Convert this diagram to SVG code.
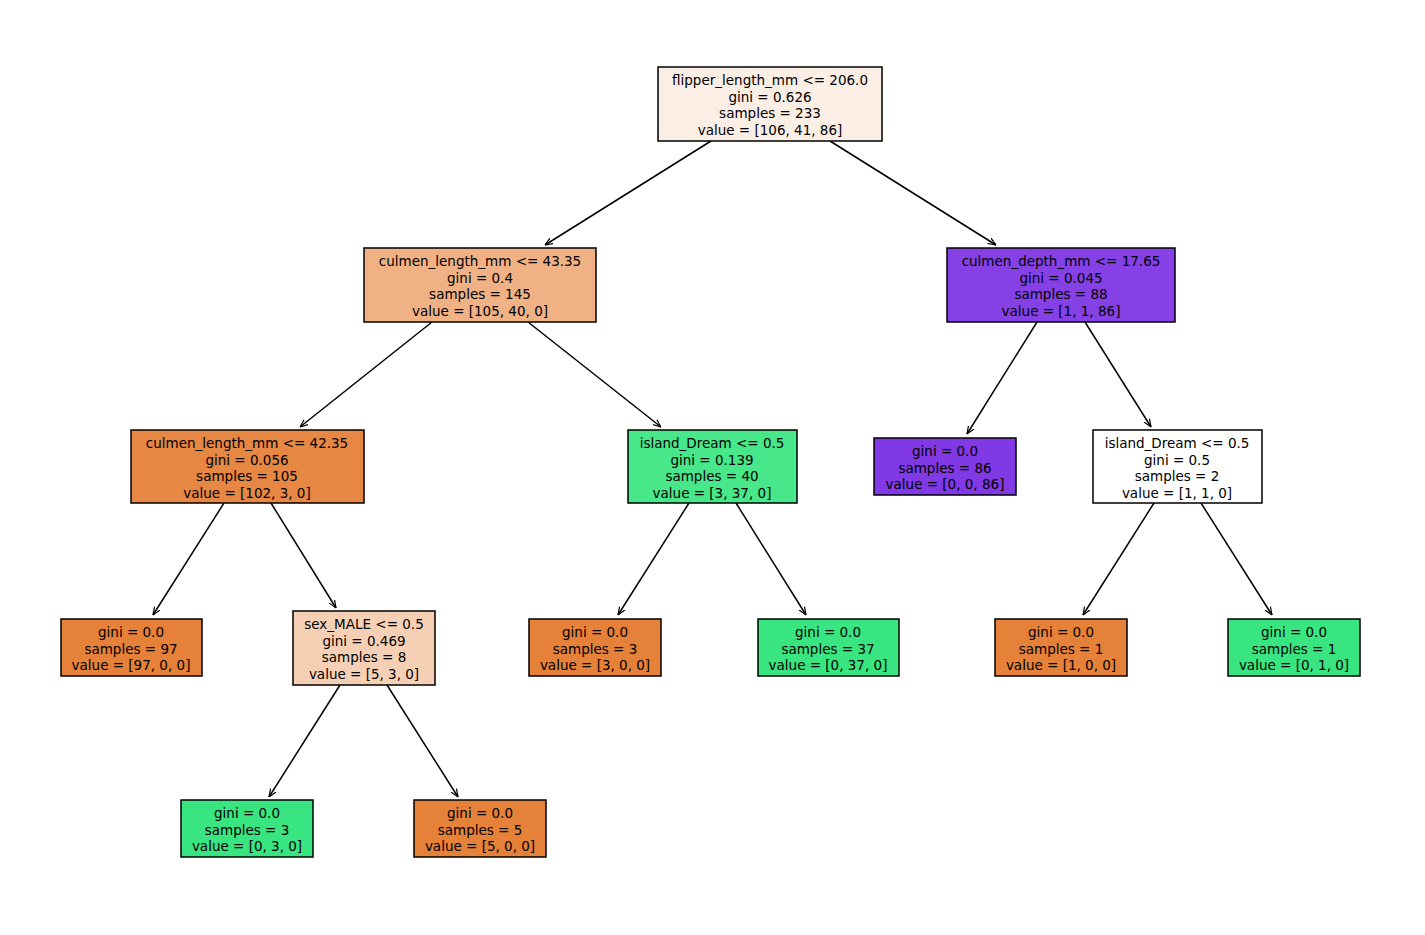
<svg xmlns="http://www.w3.org/2000/svg" width="1425" height="935" viewBox="0 0 1425 935">
<style>
rect{stroke:#000;stroke-width:1.5}
text{font-family:"DejaVu Sans",sans-serif;font-size:13.5px;text-anchor:middle;fill:#000}
.e line{stroke:#000;stroke-width:1.5;marker-end:url(#a)}
</style>
<defs><marker id="a" viewBox="0 0 10 10" refX="10" refY="5" markerWidth="8" markerHeight="8" orient="auto" markerUnits="userSpaceOnUse"><path d="M0,1 L10,5 L0,9" fill="none" stroke="#000" stroke-width="1.5"/></marker></defs>
<rect width="1425" height="935" fill="#fff" style="stroke:none"/>
<g class="e">
<line x1="711" y1="141" x2="545" y2="245"/>
<line x1="830" y1="141" x2="996" y2="245"/>
<line x1="432" y1="322" x2="300" y2="427"/>
<line x1="528" y1="322" x2="661" y2="427"/>
<line x1="1037" y1="322" x2="967" y2="434"/>
<line x1="1085" y1="322" x2="1151" y2="427"/>
<line x1="224" y1="503" x2="153" y2="615"/>
<line x1="271" y1="503" x2="336" y2="608"/>
<line x1="689" y1="503" x2="618" y2="615"/>
<line x1="736" y1="503" x2="806" y2="615"/>
<line x1="1154" y1="503" x2="1083" y2="615"/>
<line x1="1201" y1="503" x2="1272" y2="615"/>
<line x1="340" y1="685" x2="269" y2="797"/>
<line x1="387" y1="685" x2="458" y2="797"/>
</g>
<g id="n0"><rect x="658" y="67" width="224" height="74" fill="#fbeee5"/><text x="770" y="85">flipper_length_mm &lt;= 206.0</text><text x="770" y="101.5">gini = 0.626</text><text x="770" y="118">samples = 233</text><text x="770" y="134.5">value = [106, 41, 86]</text></g>
<g id="n1"><rect x="364" y="248" width="232" height="74" fill="#f0b184"/><text x="480" y="266">culmen_length_mm &lt;= 43.35</text><text x="480" y="282.5">gini = 0.4</text><text x="480" y="299">samples = 145</text><text x="480" y="315.5">value = [105, 40, 0]</text></g>
<g id="n2"><rect x="947" y="248" width="228" height="74" fill="#8540e6"/><text x="1061" y="266">culmen_depth_mm &lt;= 17.65</text><text x="1061" y="282.5">gini = 0.045</text><text x="1061" y="299">samples = 88</text><text x="1061" y="315.5">value = [1, 1, 86]</text></g>
<g id="n3"><rect x="131" y="430" width="233" height="73" fill="#e68743"/><text x="247" y="448">culmen_length_mm &lt;= 42.35</text><text x="247" y="464.5">gini = 0.056</text><text x="247" y="481">samples = 105</text><text x="247" y="497.5">value = [102, 3, 0]</text></g>
<g id="n4"><rect x="628" y="430" width="169" height="73" fill="#47e78a"/><text x="712" y="448">island_Dream &lt;= 0.5</text><text x="712" y="464.5">gini = 0.139</text><text x="712" y="481">samples = 40</text><text x="712" y="497.5">value = [3, 37, 0]</text></g>
<g id="n5"><rect x="874" y="438" width="142" height="57" fill="#8139e5"/><text x="945" y="456">gini = 0.0</text><text x="945" y="472.5">samples = 86</text><text x="945" y="489">value = [0, 0, 86]</text></g>
<g id="n6"><rect x="1093" y="430" width="169" height="73" fill="#ffffff"/><text x="1177" y="448">island_Dream &lt;= 0.5</text><text x="1177" y="464.5">gini = 0.5</text><text x="1177" y="481">samples = 2</text><text x="1177" y="497.5">value = [1, 1, 0]</text></g>
<g id="n7"><rect x="61" y="619" width="141" height="57" fill="#e58139"/><text x="131" y="637">gini = 0.0</text><text x="131" y="653.5">samples = 97</text><text x="131" y="670">value = [97, 0, 0]</text></g>
<g id="n8"><rect x="293" y="611" width="142" height="74" fill="#f6d0b5"/><text x="364" y="629">sex_MALE &lt;= 0.5</text><text x="364" y="645.5">gini = 0.469</text><text x="364" y="662">samples = 8</text><text x="364" y="678.5">value = [5, 3, 0]</text></g>
<g id="n9"><rect x="529" y="619" width="132" height="57" fill="#e58139"/><text x="595" y="637">gini = 0.0</text><text x="595" y="653.5">samples = 3</text><text x="595" y="670">value = [3, 0, 0]</text></g>
<g id="n10"><rect x="758" y="619" width="141" height="57" fill="#39e581"/><text x="828" y="637">gini = 0.0</text><text x="828" y="653.5">samples = 37</text><text x="828" y="670">value = [0, 37, 0]</text></g>
<g id="n11"><rect x="995" y="619" width="132" height="57" fill="#e58139"/><text x="1061" y="637">gini = 0.0</text><text x="1061" y="653.5">samples = 1</text><text x="1061" y="670">value = [1, 0, 0]</text></g>
<g id="n12"><rect x="1228" y="619" width="132" height="57" fill="#39e581"/><text x="1294" y="637">gini = 0.0</text><text x="1294" y="653.5">samples = 1</text><text x="1294" y="670">value = [0, 1, 0]</text></g>
<g id="n13"><rect x="181" y="800" width="132" height="57" fill="#39e581"/><text x="247" y="818">gini = 0.0</text><text x="247" y="834.5">samples = 3</text><text x="247" y="851">value = [0, 3, 0]</text></g>
<g id="n14"><rect x="414" y="800" width="132" height="57" fill="#e58139"/><text x="480" y="818">gini = 0.0</text><text x="480" y="834.5">samples = 5</text><text x="480" y="851">value = [5, 0, 0]</text></g>
</svg>
